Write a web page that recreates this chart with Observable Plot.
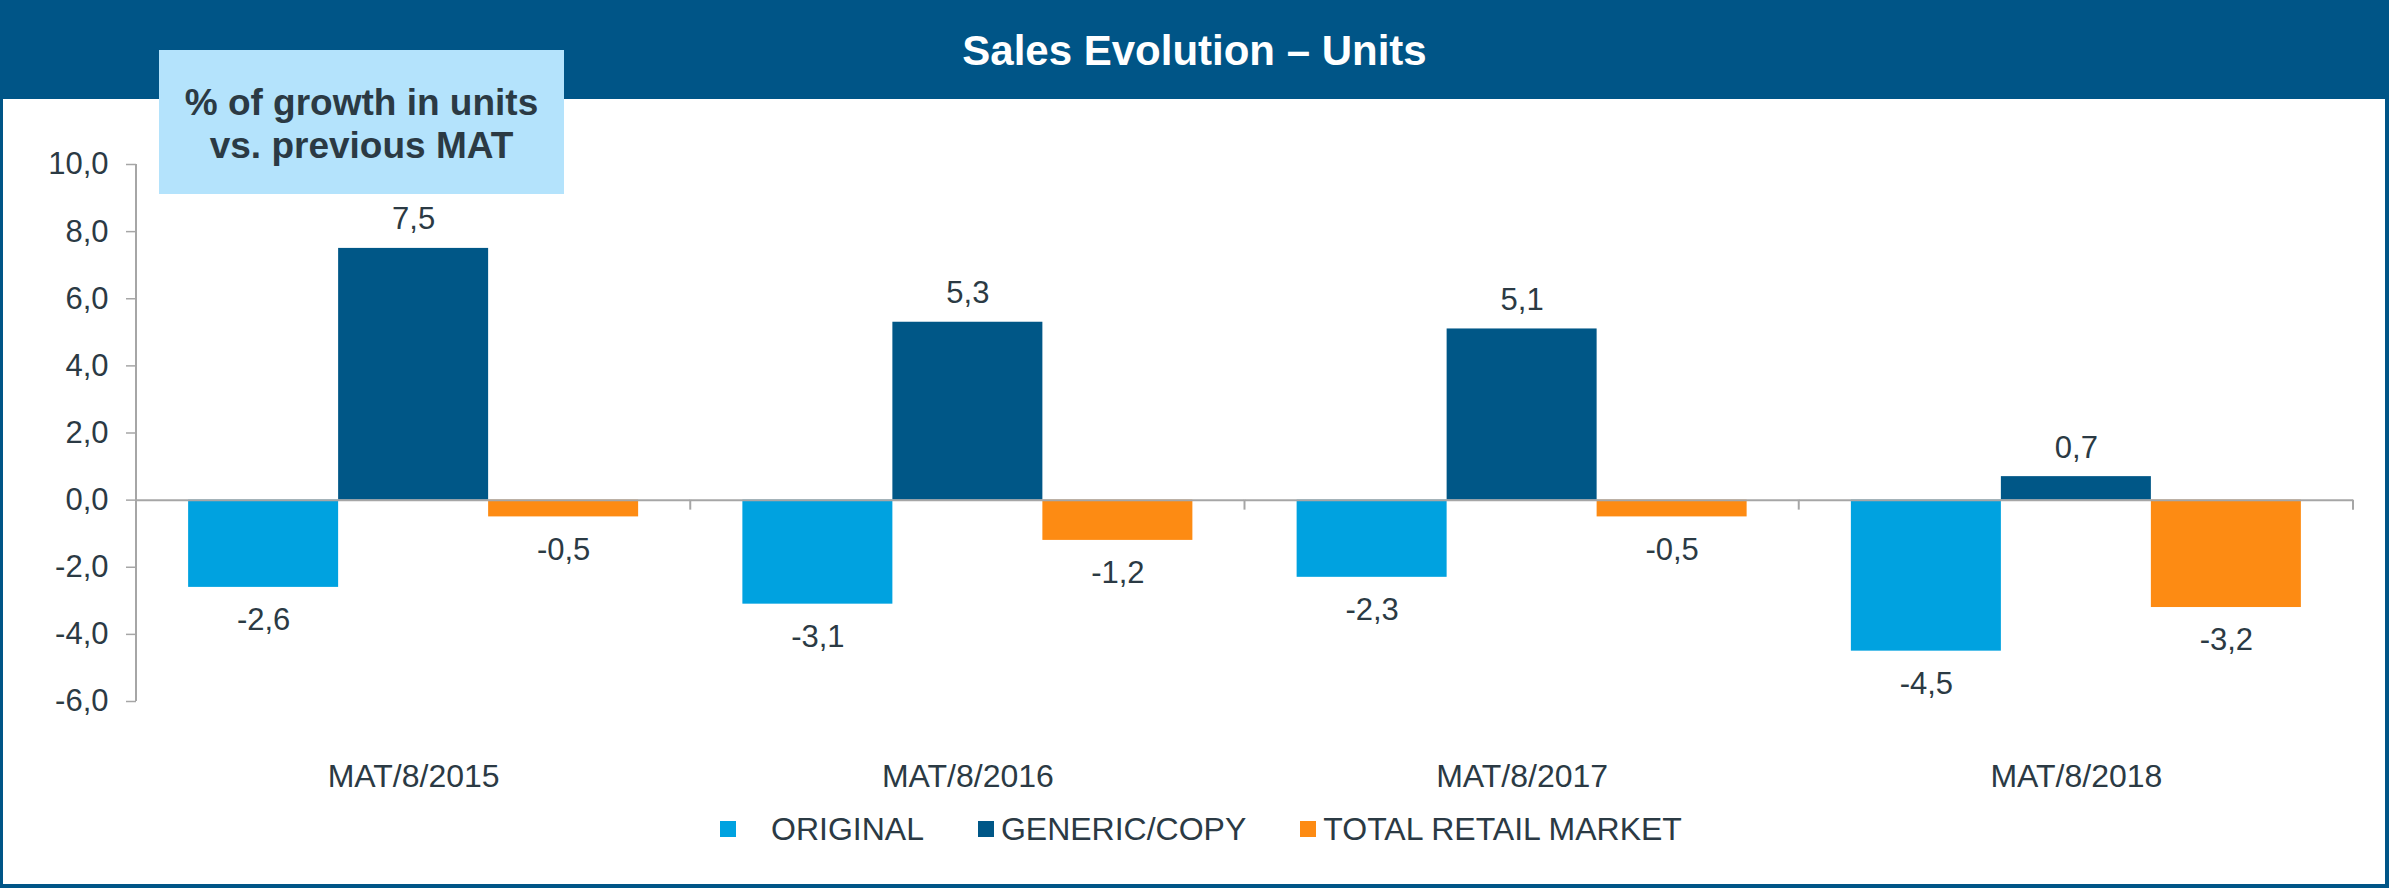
<!DOCTYPE html>
<html>
<head>
<meta charset="utf-8">
<script src="https://cdn.jsdelivr.net/npm/d3@7"></script>
<script src="https://cdn.jsdelivr.net/npm/@observablehq/plot@0.6"></script>
<style>
  body { margin: 0; background: #fff; }
  #page { position: absolute; left: 0; top: 0; width: 2389px; height: 888px; overflow: hidden; background: #fff;
          font-family: "Liberation Sans", Arial, sans-serif; color: #2b3a44; }
  #header { position: absolute; left: 0; top: 0; width: 2389px; height: 99px; background: #005587; }
  #title { position: absolute; left: 0; top: 29.5px; width: 2389px; text-align: center; color: #fff;
           font-weight: bold; font-size: 42px; line-height: 42px; white-space: nowrap; }
  #note { position: absolute; left: 159px; top: 50px; width: 405px; height: 144px; background: #b4e3fc;
          box-sizing: border-box; padding-top: 30.7px; text-align: center; font-weight: bold;
          font-size: 37px; line-height: 43px; color: #2b3a44; z-index: 3; }
  #chart { position: absolute; left: 0; top: 99px; z-index: 1; }
  #legend { position: absolute; left: 720px; top: 813px; display: flex; align-items: center;
            font-size: 32px; line-height: 32px; white-space: nowrap; z-index: 2; }
  .item { display: flex; align-items: center; margin-right: 54px; }
  .sw { width: 16px; height: 16px; margin-right: 7px; }
  #border { position: absolute; left: 0; top: 0; width: 2389px; height: 888px; box-sizing: border-box;
            border-left: 3px solid #005587; border-right: 4px solid #005587; border-bottom: 4px solid #005587;
            pointer-events: none; z-index: 5; }
</style>
</head>
<body>
<div id="page">
  <div id="header"></div>
  <div id="title">Sales Evolution – Units</div>
  <div id="note">% of growth in units<br>vs. previous MAT</div>
  <div id="chart"></div>
  <div id="legend"></div>
  <div id="border"></div>
</div>
<script>
// ---- data ----
const categories = ["MAT/8/2015", "MAT/8/2016", "MAT/8/2017", "MAT/8/2018"];
const series = ["ORIGINAL", "GENERIC/COPY", "TOTAL RETAIL MARKET"];
const original = [-2.6, -3.1, -2.3, -4.5];
const generic = [7.5, 5.3, 5.1, 0.7];
const totalRetail = [-0.5, -1.2, -0.5, -3.2];
const yTicks = [-6, -4, -2, 0, 2, 4, 6, 8, 10];
const colors = ["#00a2e0", "#005787", "#fd8b13"];

const seriesValues = [original, generic, totalRetail];
const data = [];
categories.forEach((c, i) => {
  series.forEach((s, j) => data.push({cat: c, series: s, value: seriesValues[j][i]}));
});
const fmt = v => v.toFixed(1).replace(".", ",");
const textColor = "#2b3a44";
const gray = "#a6a6a6";

const plot = Plot.plot({
  width: 2389,
  height: 700,
  marginTop: 65,
  marginBottom: 98,
  marginLeft: 136,
  marginRight: 36,
  style: {fontFamily: "'Liberation Sans', Arial, sans-serif", fontSize: "31px", color: textColor, background: "transparent", overflow: "visible"},
  fx: {domain: categories, padding: 0, round: false},
  x: {domain: series, paddingInner: 0, paddingOuter: 0.3475, round: false, axis: null},
  y: {domain: [-6, 10]},
  color: {domain: series, range: colors},
  marks: [
    Plot.barY(data, {fx: "cat", x: "series", y: "value", fill: "series"}),
    Plot.ruleY([0], {stroke: gray, strokeWidth: 2}),
    Plot.text(data, {filter: d => d.value >= 0, fx: "cat", x: "series", y: "value", text: d => fmt(d.value), dy: -29, fontSize: 31, fill: textColor}),
    Plot.text(data, {filter: d => d.value < 0, fx: "cat", x: "series", y: "value", text: d => fmt(d.value), dy: 33, fontSize: 31, fill: textColor}),
    Plot.axisY({ticks: yTicks, tickFormat: fmt, tickSize: 10, tickPadding: 18, fontSize: 31, stroke: gray, strokeWidth: 1.5, fill: textColor, label: null}),
    Plot.axisFx({anchor: "bottom", tickSize: 0, tickPadding: 63, fontSize: 32, fill: textColor, label: null})
  ]
});
document.getElementById("chart").appendChild(plot);

// axis line and category boundary ticks, positioned through the plot's own scales
const fxS = plot.scale("fx"), yS = plot.scale("y");
const g = d3.select(plot).append("g").attr("stroke", gray).attr("stroke-width", 2);
const left = fxS.apply(categories[0]);
g.append("line").attr("x1", left).attr("x2", left).attr("y1", yS.apply(10)).attr("y2", yS.apply(-6));
const bounds = categories.map(c => fxS.apply(c)).concat([fxS.apply(categories[categories.length - 1]) + fxS.bandwidth]);
bounds.forEach(x => {
  g.append("line").attr("x1", x).attr("x2", x).attr("y1", yS.apply(0)).attr("y2", yS.apply(0) + 10);
});

// legend
const legend = document.getElementById("legend");
series.forEach((s, j) => {
  const item = document.createElement("div");
  item.className = "item";
  const sw = document.createElement("div");
  sw.className = "sw";
  sw.style.background = colors[j];
  const lab = document.createElement("span");
  lab.textContent = s;
  if (j === 0) lab.style.paddingLeft = "28px";
  item.appendChild(sw);
  item.appendChild(lab);
  legend.appendChild(item);
});
</script>
</body>
</html>
